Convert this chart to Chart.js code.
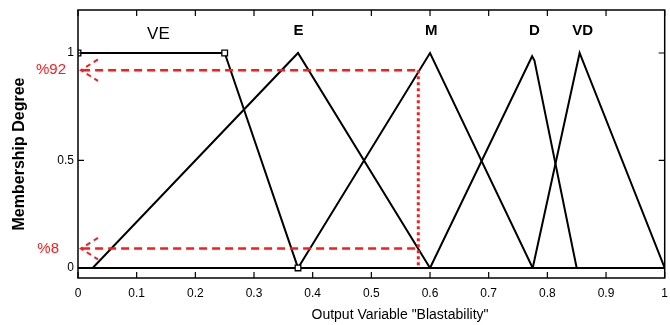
<!DOCTYPE html>
<html>
<head>
<meta charset="utf-8">
<script src="https://cdn.jsdelivr.net/npm/chart.js@4/dist/chart.umd.min.js"></script>
<style>
  body { margin: 0; background: #fff; }
  #wrap { width: 670px; height: 325px; position: relative; }
</style>
</head>
<body>
<div id="wrap"><canvas id="graph"></canvas></div>
<script>
// membership functions of "Blastability"
const veX = [0, 0.25, 0.375, 1]
const veY = [1, 1, 0, 0]
const eX = [0, 0.025, 0.375, 0.6, 1]
const eY = [0, 0, 1, 0, 0]
const mX = [0, 0.375, 0.6, 0.775, 1]
const mY = [0, 0, 1, 0, 0]
const dX = [0, 0.6, 0.774, 0.778, 0.85, 1]
const dY = [0, 0, 0.985, 0.965, 0, 0]
const vdX = [0, 0.775, 0.855, 1]
const vdY = [0, 0, 1, 0, 0]

// red read-off guides (output 0.58 -> 92% / 8%)
const cutX = 0.58
const highDeg = 0.92
const lowDeg = 0.09
const arrowX = [0.034, 0.005, 0.034]
const arrowDY = [0.05, 0, -0.05]

const xTicks = [0, 0.1, 0.2, 0.3, 0.4, 0.5, 0.6, 0.7, 0.8, 0.9, 1]
const yTicks = [0, 0.5, 1]

const mfNames = ['VE', 'E', 'M', 'D', 'VD']
const mfNameX = [0.137, 0.376, 0.602, 0.778, 0.86]
const mfNameY = [1.086, 1.105, 1.105, 1.105, 1.105]

const pts = (xs, ys) => xs.map((x, i) => ({ x: x, y: ys[i] }))

const red = '#ff1a1a'
const font = "'Liberation Sans', Arial, sans-serif"

const line = (data, extra) => Object.assign({
  data: data,
  showLine: true,
  borderColor: '#000',
  borderWidth: 2,
  pointRadius: 0,
  fill: false,
}, extra || {})

const datasets = [
  line(pts([0.007, cutX], [highDeg, highDeg]), { borderColor: red, borderWidth: 2.5, borderDash: [8, 5] }),
  line(pts([0.007, cutX], [lowDeg, lowDeg]), { borderColor: red, borderWidth: 2.5, borderDash: [8, 5] }),
  line(pts([cutX, cutX], [highDeg, 0]), { borderColor: red, borderWidth: 3, borderDash: [3, 3] }),
  line(pts(arrowX, arrowDY.map(d => highDeg + d)), { borderColor: red, borderWidth: 2, borderDash: [5, 4] }),
  line(pts(arrowX, arrowDY.map(d => lowDeg + d)), { borderColor: red, borderWidth: 2, borderDash: [5, 4] }),
  line(pts(veX, veY), {
    pointRadius: [4, 4, 4, 0],
    pointStyle: 'rect',
    pointBackgroundColor: '#fff',
    pointBorderColor: '#000',
    pointBorderWidth: 1.3,
  }),
  line(pts(eX, eY)),
  line(pts(mX, mY)),
  line(pts(dX, dY)),
  line(pts(vdX, vdY)),
]

const decor = {
  id: 'decor',
  afterDraw(chart) {
    const { ctx, chartArea: a, scales: { x, y } } = chart
    ctx.save()
    ctx.strokeStyle = '#000'
    ctx.lineWidth = 1.5
    ctx.strokeRect(a.left, a.top, a.right - a.left, a.bottom - a.top)

    // inward tick marks
    ctx.lineWidth = 1.2
    ctx.beginPath()
    xTicks.forEach(v => {
      const px = x.getPixelForValue(v)
      ctx.moveTo(px, a.bottom); ctx.lineTo(px, a.bottom - 6)
      ctx.moveTo(px, a.top); ctx.lineTo(px, a.top + 6)
    })
    yTicks.forEach(v => {
      const py = y.getPixelForValue(v)
      ctx.moveTo(a.left, py); ctx.lineTo(a.left + 6, py)
      ctx.moveTo(a.right, py); ctx.lineTo(a.right - 6, py)
    })
    ctx.stroke()

    // set names
    ctx.fillStyle = '#000'
    ctx.textAlign = 'center'
    ctx.textBaseline = 'middle'
    mfNames.forEach((n, i) => {
      ctx.font = (i === 0 ? '17px ' : 'bold 15px ') + font
      ctx.fillText(n, x.getPixelForValue(mfNameX[i]), y.getPixelForValue(mfNameY[i]))
    })

    // red percentages
    ctx.fillStyle = red
    ctx.textAlign = 'right'
    ctx.font = '15px ' + font
    ctx.fillText('%92', 66, y.getPixelForValue(highDeg))
    ctx.fillText('%8', 59, y.getPixelForValue(lowDeg))

    // axis titles
    ctx.fillStyle = '#000'
    ctx.textAlign = 'center'
    ctx.font = '14px ' + font
    ctx.fillText('Output Variable "Blastability"', 400, 315)
    ctx.translate(20, 154)
    ctx.rotate(-Math.PI / 2)
    ctx.font = 'bold 16px ' + font
    ctx.fillText('Membership Degree', 0, 0)
    ctx.restore()
  },
}

new Chart(document.getElementById('graph'), {
  type: 'scatter',
  data: { datasets: datasets },
  options: {
    responsive: true,
    maintainAspectRatio: false,
    animation: false,
    layout: { padding: { top: 10, right: 2, left: 0, bottom: 0 } },
    plugins: { legend: { display: false }, tooltip: { enabled: false } },
    scales: {
      x: {
        type: 'linear',
        min: 0,
        max: 1,
        grid: { display: false, drawTicks: false },
        border: { display: false },
        afterBuildTicks: (s) => { s.ticks = xTicks.map(v => ({ value: v })) },
        afterFit: (s) => { s.height = 47; s.paddingLeft = 0; s.paddingRight = 0 },
        ticks: {
          padding: 8,
          color: '#000',
          font: { family: font, size: 12 },
          maxRotation: 0,
          autoSkip: false,
          callback: (v) => String(Math.round(v * 10) / 10),
        },
      },
      y: {
        min: -0.047,
        max: 1.2,
        grid: { display: false, drawTicks: false },
        border: { display: false },
        afterBuildTicks: (s) => { s.ticks = yTicks.map(v => ({ value: v })) },
        afterFit: (s) => { s.width = 78; s.paddingTop = 0; s.paddingBottom = 0 },
        ticks: {
          padding: 4,
          color: '#000',
          font: { family: font, size: 12 },
          callback: (v) => String(v),
        },
      },
    },
  },
  plugins: [decor],
})
</script>
</body>
</html>
